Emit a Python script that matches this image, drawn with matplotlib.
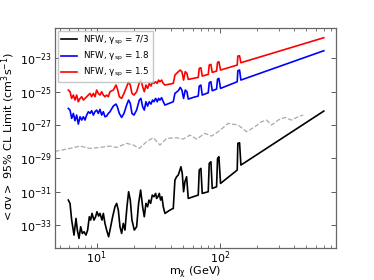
import numpy as np
import matplotlib.pyplot as plt
from matplotlib.ticker import FixedLocator, NullLocator, LogFormatterMathtext

# masa (GeV) compartida por las curvas roja y azul
m_rb = [5.89, 6.08, 6.27, 6.47, 6.67, 6.88, 7.10, 7.33, 7.56, 7.80, 8.04, 8.30, 8.56,
        8.83, 9.11, 9.40, 9.69, 10.0, 10.31, 10.64, 10.98, 11.33, 11.68, 12.05, 12.43,
        12.83, 13.65, 14.35, 14.71, 15.27, 15.95, 16.66, 17.51, 18.17, 18.75, 19.34,
        20.08, 21.10, 22.18, 22.88, 23.61, 24.35, 25.12, 25.91, 26.73, 27.58, 28.46,
        29.17, 30.09, 31.04, 31.82, 32.62, 33.65, 34.72, 35.82, 41.85, 43.17, 45.94,
        47.69, 49.19, 50.74, 52.36, 54.02, 55.37, 60.79, 66.74, 67.99, 70.14, 71.91,
        80.44, 81.95, 84.54, 86.68, 93.97, 95.74, 98.15, 101.25, 138.2, 139.9, 144.4,
        148.1, 697]

# log10 <sigma v>, gamma_sp = 1.5
log_red = [-24.90, -25.00, -25.40, -25.20, -25.50, -25.20, -25.60, -25.40, -25.30, -25.50,
           -25.40, -25.30, -25.20, -25.10, -25.30, -25.10, -25.30, -24.90, -25.10, -25.20,
           -25.00, -25.20, -25.30, -25.20, -25.30, -25.00,
           -24.90, -24.60, -24.80, -25.30, -25.40, -25.10, -24.70, -24.40, -24.60, -25.10,
           -25.20, -25.00, -24.46, -24.30, -24.70, -25.00, -24.60, -24.80, -24.50, -24.66,
           -24.40, -24.50, -24.40, -24.50, -24.30, -24.40, -24.30, -24.50, -24.60,
           -24.50, -24.00, -23.80, -23.70, -23.80, -24.30, -23.80, -23.90, -24.26, -24.20,
           -24.14, -23.60, -23.56, -24.06, -23.96, -23.40, -23.36, -23.84, -23.76, -23.24,
           -23.20, -23.70, -23.40, -22.86, -22.84, -23.26, -21.76]

# log10 <sigma v>, gamma_sp = 1.8
log_blue = [-26.00, -26.10, -26.60, -26.30, -26.74, -26.40, -26.94, -26.50, -26.70, -26.50,
            -26.70, -26.40, -26.20, -26.30, -26.14, -26.40, -26.20, -26.10, -26.30, -26.06,
            -26.40, -26.20, -26.50, -26.46, -26.30, -26.20,
            -25.86, -25.74, -25.90, -26.30, -26.54, -26.30, -25.80, -25.50, -25.70, -26.30,
            -26.40, -26.10, -25.50, -25.40, -25.90, -26.10, -25.60, -25.86, -25.60, -25.74,
            -25.50, -25.60, -25.40, -25.60, -25.40, -25.50, -25.36, -25.60, -25.80,
            -25.60, -25.10, -24.94, -24.74, -24.90, -25.40, -24.90, -25.00, -25.44, -25.34,
            -25.26, -24.66, -24.60, -25.20, -25.06, -24.46, -24.40, -24.94, -24.84, -24.24,
            -24.20, -24.80, -24.40, -23.74, -23.70, -24.30, -22.54]

# gamma_sp = 7/3
m_k = [5.89, 6.08, 6.27, 6.55, 6.80, 6.97, 7.19, 7.42, 7.65, 7.90, 8.19, 8.45, 8.72, 8.94,
       9.17, 9.51, 9.81, 10.06, 10.38, 10.64, 11.05, 11.33, 11.68, 12.05, 12.51, 12.99,
       13.48, 14.08, 14.53, 14.99, 15.46, 15.95, 16.45, 16.97, 17.62, 18.17, 18.75, 19.34,
       20.21, 21.10, 21.90, 22.74, 23.61, 24.35, 25.12, 25.91, 26.57, 27.41, 28.28, 29.17,
       30.09, 30.66, 31.43, 32.22, 33.03, 33.86, 34.72, 35.82, 39.32, 41.85, 43.17, 44.53,
       45.94, 47.39, 48.29, 49.50, 50.74, 52.03, 53.68, 55.37, 60.79, 66.74, 67.99, 70.14,
       71.91, 80.44, 81.95, 84.54, 86.68, 93.97, 95.74, 98.15, 101.25, 138.2, 139.9, 144.4,
       148.1, 697]
log_black = [-31.50, -31.70, -32.70, -33.60, -32.60, -33.30, -33.80, -33.10, -33.50, -33.40,
             -33.60, -33.30, -32.50, -32.70, -32.30, -32.70, -32.50, -32.20, -32.46, -32.30,
             -32.70, -32.30, -32.90, -33.30, -33.70, -33.10, -32.50, -31.90, -31.70, -32.10,
             -33.10, -33.50, -32.90, -33.30, -31.90, -31.00, -31.50, -32.70, -33.30, -33.10,
             -31.70, -30.90, -31.90, -32.50, -31.70, -31.90, -31.50, -31.70, -31.20, -31.30,
             -31.10, -31.40, -31.30, -31.10, -31.50, -31.30, -31.90, -32.30, -32.10, -32.00,
             -30.30, -30.10, -30.00, -29.70, -29.50, -29.90, -31.00, -30.40, -30.10, -31.40,
             -31.30, -31.20, -29.70, -29.60, -31.10, -31.00, -29.30, -29.20, -30.80, -30.70,
             -29.00, -28.90, -30.50, -29.70, -28.10, -28.06, -29.40, -26.16]

# curva gris discontinua
m_gray = [4.59, 4.74, 6.08, 7.33, 8.83, 10.64, 12.83, 14.53, 17.51, 19.83, 22.18, 25.43,
          28.81, 32.62, 36.95, 44.53, 50.43, 57.12, 64.69, 75.56, 85.59, 96.94, 116.8,
          140.8, 164.5, 192.2, 217.7, 238.9, 262.4, 297.2, 336.5, 381.2, 431.6, 474.0]
log_gray = [-28.54, -28.56, -28.40, -28.26, -28.40, -28.34, -28.26, -28.34, -28.10, -28.20,
            -28.40, -28.00, -27.76, -28.20, -27.80, -27.76, -27.84, -27.60, -27.84, -27.50,
            -27.66, -27.40, -26.90, -27.00, -27.40, -27.10, -26.80, -26.70, -27.00, -26.70,
            -26.54, -26.70, -26.50, -26.40]

labels = [r'NFW, $\mathregular{\gamma_{sp}}$ = 7/3',
          r'NFW, $\mathregular{\gamma_{sp}}$ = 1.8',
          r'NFW, $\mathregular{\gamma_{sp}}$ = 1.5']

fig = plt.figure(figsize=(3.74, 2.80), dpi=100)
ax = fig.add_axes([0.147, 0.114, 0.751, 0.787])

ax.plot(m_k, 10.0 ** np.array(log_black), color='black', lw=1.2, label=labels[0])
ax.plot(m_rb, 10.0 ** np.array(log_blue), color='blue', lw=1.2, label=labels[1])
ax.plot(m_rb, 10.0 ** np.array(log_red), color='red', lw=1.2, label=labels[2])
ax.plot(m_gray, 10.0 ** np.array(log_gray), color='#aaaaaa', lw=0.9, ls='--')

ax.set_xscale('log')
ax.set_yscale('log')
ax.set_xlim(4.59, 873)
ax.set_ylim(10 ** -34.38, 10 ** -21.16)

ax.yaxis.set_major_locator(FixedLocator([10.0 ** e for e in range(-33, -22, 2)]))
ax.yaxis.set_major_formatter(LogFormatterMathtext())
ax.yaxis.set_minor_locator(NullLocator())

ax.tick_params(which='both', direction='in', top=True, right=True, labelsize=8, pad=2.5)
ax.tick_params(axis='x', which='both', pad=1.2)
ax.tick_params(which='major', length=3.5, width=0.6, color='#444444')
ax.tick_params(which='minor', length=2, width=0.5, color='#444444')
for s in ax.spines.values():
    s.set_color('#666666')
    s.set_linewidth(0.9)

ax.set_xlabel(r'$\mathregular{m_\chi}$ (GeV)', fontsize=8, labelpad=-1.5)
ax.set_ylabel(r'$\mathregular{<\sigma v>}$ 95% CL Limit (cm$^3$s$^{-1}$)', fontsize=8, labelpad=1.5)

ax.legend(loc='upper left', fontsize=6.3, frameon=True, edgecolor='#bbbbbb',
          fancybox=False, handlelength=1.8, borderaxespad=0.35, labelspacing=0.35,
          borderpad=0.35, handletextpad=0.7)

fig.savefig('out.png', dpi=100)
